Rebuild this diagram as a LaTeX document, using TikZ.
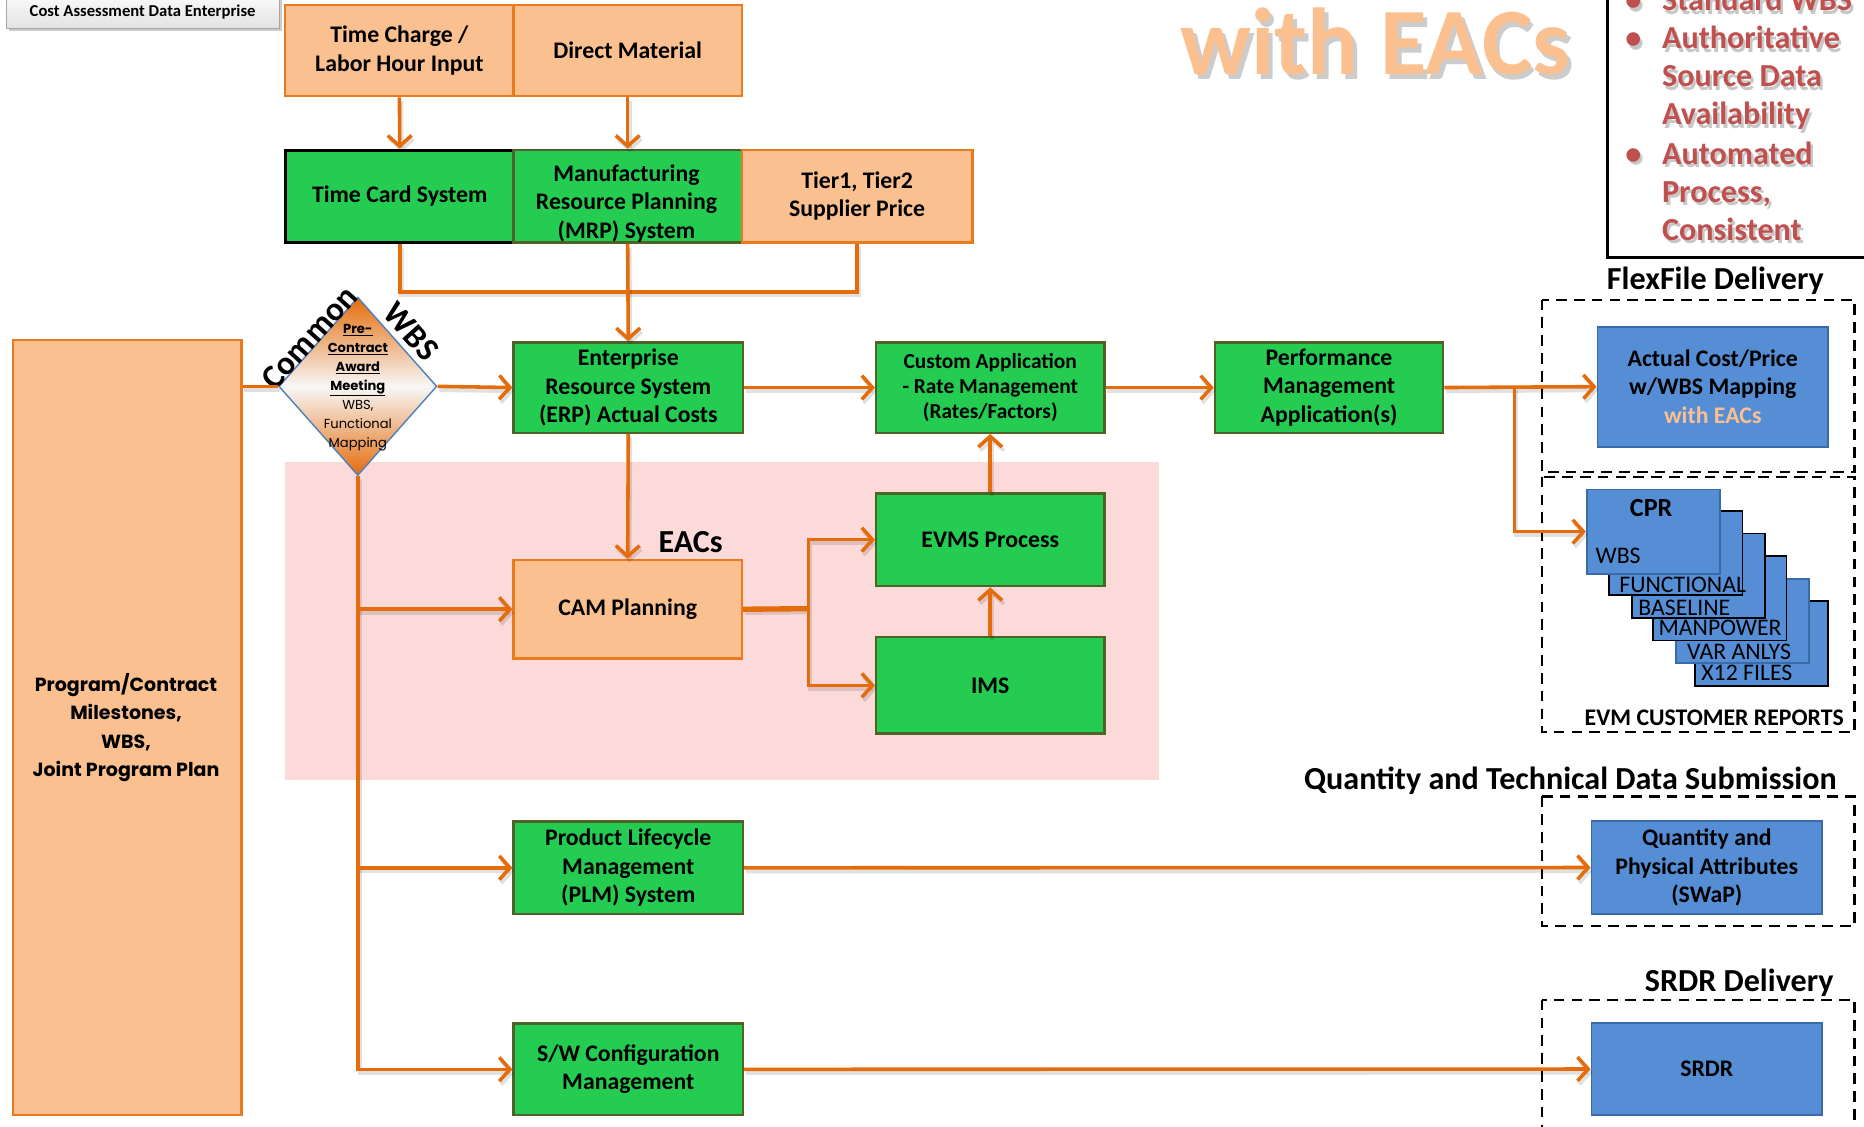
\documentclass[tikz,border=0pt]{standalone}
\usepackage{fontspec}
\setmainfont{Carlito}
\newfontfamily\gothic{Poppins}
\usetikzlibrary{arrows.meta,shapes.geometric,shadows}

\definecolor{peach}{HTML}{FAC090}
\definecolor{orline}{HTML}{E46C0A}
\definecolor{orborder}{HTML}{E97A1E}
\definecolor{boxgreen}{HTML}{24CC52}
\definecolor{greenedge}{HTML}{4F6228}
\definecolor{boxblue}{HTML}{558ED5}
\definecolor{blueedge}{HTML}{3A6AA8}
\definecolor{pinkzone}{HTML}{FDDADA}
\definecolor{redtext}{HTML}{C0504D}
\definecolor{diamondedge}{HTML}{4F81BD}

\tikzset{
  orangebox/.style={draw=orborder, line width=2pt, fill=peach, anchor=north west,
    font=\bfseries\fontsize{20}{24}\selectfont, align=center},
  greenbox/.style={draw=greenedge, line width=2pt, fill=boxgreen, anchor=north west,
    font=\bfseries\fontsize{20}{24}\selectfont, align=center},
  bluebox/.style={draw=blueedge, line width=1.5pt, fill=boxblue, anchor=north west,
    font=\bfseries\fontsize{20}{24}\selectfont, align=center},
  link/.style={draw=orline, line width=3pt,
    preaction={draw=black, opacity=0.12, line width=3.5pt,
      transform canvas={shift={(1.5pt,-3pt)}}}},
  flow/.style={link, -{Straight Barb[length=9pt,width=20pt,line width=3pt]}},
  dashzone/.style={draw=black, line width=1.8pt, dash pattern=on 9pt off 6pt},
  heading/.style={font=\bfseries\fontsize{27}{30}\selectfont},
  sheet/.style={fill=boxblue, line width=1.5pt, anchor=north west,
    minimum width=112pt, minimum height=71pt, inner sep=0pt},
  sheetlabel/.style={font=\fontsize{20}{22}\selectfont, anchor=west, inner sep=0pt},
  bullettext/.style={font=\bfseries\fontsize{27}{30}\selectfont, text=redtext,
    anchor=base west, inner sep=0pt},
  bulletshadow/.style={font=\bfseries\fontsize{27}{30}\selectfont, text=black,
    opacity=0.22, anchor=base west, inner sep=0pt},
}

\begin{document}
\begin{tikzpicture}[x=1pt,y=-1pt]
\useasboundingbox (0,0) rectangle (1568,948);
\clip (0,0) rectangle (1568,948);

% shaded EAC planning zone
\fill[pinkzone] (240,389) rectangle (975,656);

% header tag
\node[draw=gray!70, top color=white, bottom color=gray!22, minimum width=230pt,
      minimum height=34pt, anchor=south west, inner sep=0pt,
      drop shadow={shadow xshift=2pt, shadow yshift=-2pt, opacity=0.4}]
      (cade) at (5,24) {};
\node[font=\bfseries\fontsize{14}{16}\selectfont, inner sep=0pt] (cadetext) at (120,10)
      {Cost Assessment Data Enterprise};

% top inputs
\node[orangebox, minimum width=192pt, minimum height=77pt] (tc) at (239,3) {Time Charge /\\Labor Hour Input};
\node[orangebox, minimum width=192pt, minimum height=77pt] (dm) at (431,3) {Direct Material};

% source systems
\node[greenbox, draw=black, line width=2.5pt, minimum width=192pt, minimum height=78pt] (tcs) at (239,125) {Time Card System};
\node[greenbox, minimum width=192pt, minimum height=78pt] (mrp) at (431,125) {};
\node[font=\bfseries\fontsize{20}{24}\selectfont, align=center] (mrptext) at (527,171) {Manufacturing\\Resource Planning\\(MRP) System};
\node[orangebox, minimum width=194pt, minimum height=78pt] (tier) at (623,125) {Tier1, Tier2\\Supplier Price};

% main processing row
\node[greenbox, minimum width=193pt, minimum height=76pt] (erp) at (431,287) {Enterprise\\Resource System\\(ERP) Actual Costs};
\node[greenbox, minimum width=192pt, minimum height=76pt, font=\bfseries\fontsize{18}{21}\selectfont] (cust) at (736,287) {Custom Application\\- Rate Management\\(Rates/Factors)};
\node[greenbox, minimum width=192pt, minimum height=76pt] (perf) at (1021,287) {Performance\\Management\\Application(s)};

% program baseline column
\node[orangebox, minimum width=192pt, minimum height=652pt] (prog) at (10,285) {};
\node[font=\gothic\bfseries\fontsize{16}{24}\selectfont, align=center] (progtext) at (106,612)
  {Program/Contract\\Milestones,\\WBS,\\Joint Program Plan};

% common WBS decision point
\node[diamond, draw=diamondedge, line width=1.2pt, minimum width=133pt, minimum height=150pt,
      inner sep=0pt, top color=orline, bottom color=orline, middle color=white!94!gray] (dia) at (301,325) {};
\node[font=\gothic\fontsize{11}{16}\selectfont, align=center, inner sep=0pt] (diatext) at (301,326)
  {\textbf{\underline{Pre-}}\\\textbf{\underline{Contract}}\\\textbf{\underline{Award}}\\\textbf{\underline{Meeting}}\\WBS,\\Functional\\Mapping};
\node[font=\bfseries\fontsize{28}{30}\selectfont, rotate=48, inner sep=0pt] (common) at (260,284) {Common};
\node[font=\bfseries\fontsize{28}{30}\selectfont, rotate=-48, inner sep=0pt] (wbs) at (346,279) {WBS};

% EAC planning
\node[orangebox, minimum width=192pt, minimum height=83pt] (cam) at (431,470) {CAM Planning};
\node[heading] (eacs) at (581,456) {EACs};
\node[greenbox, minimum width=192pt, minimum height=78pt] (evms) at (736,414) {EVMS Process};
\node[greenbox, minimum width=192pt, minimum height=81pt] (ims) at (736,535) {IMS};

% lifecycle and software
\node[greenbox, minimum width=193pt, minimum height=78pt] (plm) at (431,690) {Product Lifecycle\\Management\\(PLM) System};
\node[greenbox, minimum width=193pt, minimum height=77pt] (sw) at (431,860) {S/W Configuration\\Management};

% title fragment
\node[font=\bfseries\fontsize{80}{80}\selectfont, text=black, opacity=0.2, anchor=base west, inner sep=0pt] (titleshadow) at (996,67) {with EACs};
\node[font=\bfseries\fontsize{80}{80}\selectfont, text=peach, anchor=base west, inner sep=0pt] (title) at (993,63) {with EACs};

% goals box
\draw[line width=2.5pt] (1352,-20) -- (1352,217) -- (1600,217);
\foreach \y/\t [count=\i] in {9/Standard WBS, 41/Authoritative, 73/Source Data, 105/Availability,
                             138/Automated, 170/{Process,}, 202/Consistent}{
  \node[bulletshadow] (gs\i) at (1400,\y+3) {\t};
  \node[bullettext] (gt\i) at (1398,\y) {\t};
}
\foreach \y [count=\i] in {9,41,138}{
  \node[bulletshadow, anchor=base] (bs\i) at (1376,\y+3) {•};
  \node[bullettext, anchor=base] (bt\i) at (1374,\y) {•};
}

% delivery zones
\node[heading] (flexhead) at (1443,236) {FlexFile Delivery};
\draw[dashzone] (1297,252) rectangle (1560,397);
\draw[dashzone] (1297,401) rectangle (1560,616);
\node[font=\bfseries\fontsize{20}{22}\selectfont] (evmhead) at (1442,604) {EVM CUSTOMER REPORTS};
\node[heading] (qtyhead) at (1321,657) {Quantity and Technical Data Submission};
\draw[dashzone] (1297,670) rectangle (1560,779);
\node[heading] (srdrhead) at (1463,827) {SRDR Delivery};
\draw[dashzone] (1297,841) rectangle (1560,970);

\node[bluebox, minimum width=194pt, minimum height=101pt] (act) at (1343,274)
  {Actual Cost/Price\\w/WBS Mapping\\{\color{peach}with EACs}};
\node[bluebox, minimum width=194pt, minimum height=78pt] (qty) at (1338,690)
  {Quantity and\\Physical Attributes\\(SWaP)};
\node[bluebox, minimum width=194pt, minimum height=77pt] (srdr) at (1338,860) {SRDR};

% stacked customer report sheets, back to front
\node[sheet, draw=black] (s6) at (1425,505) {};
\node[sheetlabel] (l6) at (1431,566) {X12 FILES};
\node[sheet, draw=blueedge] (s5) at (1409,486) {};
\node[sheetlabel] (l5) at (1419,548) {VAR ANLYS};
\node[sheet, draw=black] (s4) at (1390,467) {};
\node[sheetlabel] (l4) at (1395,528) {MANPOWER};
\node[sheet, draw=black] (s3) at (1372,448) {};
\node[sheetlabel] (l3) at (1378,511) {BASELINE};
\node[sheet, draw=black] (s2) at (1353,429) {};
\node[sheetlabel] (l2) at (1362,492) {FUNCTIONAL};
\node[sheet, draw=blueedge] (cpr) at (1334,411) {};
\node[font=\bfseries\fontsize{22}{24}\selectfont] (cprtitle) at (1389,427) {CPR};
\node[sheetlabel] (cprwbs) at (1342,468) {WBS};

% connectors
\draw[flow] (tc.south) -- (tcs.north);
\draw[flow] (dm.south) -- (mrp.north);
\draw[link] (tcs.south) -- ++(0,40) -| (tier.south);
\draw[flow] (mrp.south) -- (erp.north);
\draw[link] (prog.east |- dia.west) -- (dia.west);
\draw[flow] (dia.east) -- (erp.west);
\draw[flow] (erp.east) -- (cust.west);
\draw[flow] (cust.east) -- (perf.west);
\draw[flow] (perf.east) -- (act.west);
\coordinate (split) at (1274,325);
\draw[flow] (split) |- (cpr.west);
\draw[flow] (erp.south) -- (cam.north);
\draw[flow] (dia.south) |- (sw.west);
\draw[flow] (dia.south |- cam.west) -- (cam.west);
\draw[flow] (dia.south |- plm.west) -- (plm.west);
\coordinate (fork) at (680,512);
\draw[link, line width=4.5pt] (cam.east) -- (fork);
\draw[flow] (fork) |- (evms.west);
\draw[flow] (fork) |- (ims.west);
\draw[flow] (ims.north) -- (evms.south);
\draw[flow] (evms.north) -- (cust.south);
\draw[flow] (plm.east) -- (qty.west);
\draw[flow] (sw.east) -- (srdr.west);
\end{tikzpicture}
\end{document}
